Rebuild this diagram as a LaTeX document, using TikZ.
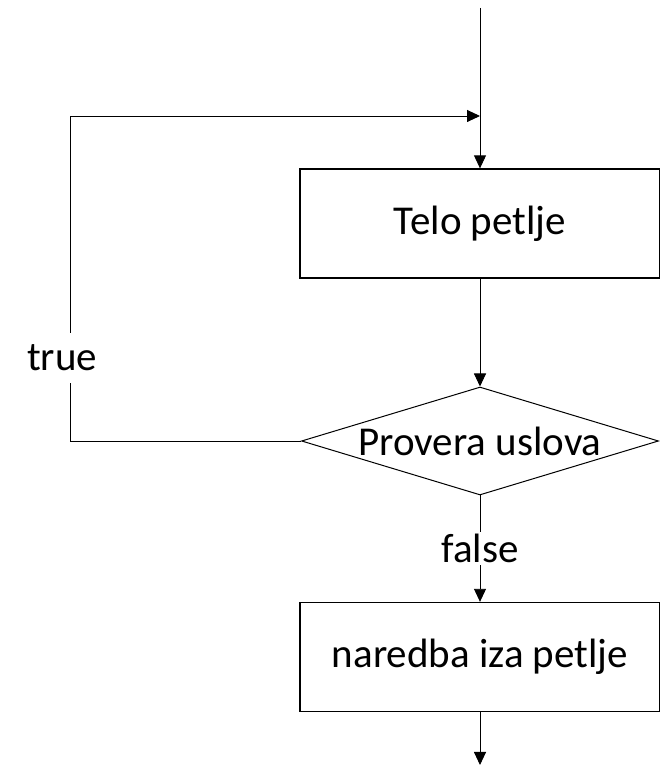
\documentclass[tikz,border=0pt]{standalone}
\usepackage{fontspec}
\setmainfont{Carlito}
\usetikzlibrary{arrows.meta,positioning,shapes.geometric}

\begin{document}
\begin{tikzpicture}[
  x=1pt, y=1pt,
  font=\fontsize{41}{49}\selectfont,
  proc/.style={draw, line width=1.3pt, minimum width=360pt,
    minimum height=109pt, inner sep=0pt},
  cond/.style={draw, diamond, line width=1pt, minimum width=357pt,
    minimum height=108pt, inner sep=0pt},
  lbl/.style={fill=white, inner sep=2pt},
  arr/.style={-{Triangle[length=13pt, width=12pt]}, line width=0.9pt},
]
\useasboundingbox (0,0) rectangle (659,766);

\node[proc] (body)  at (480,542.5) {Telo petlje};
\node[cond] (check) at (480,325)   {\makebox[0pt]{Provera uslova}};
\node[proc] (next)  at (480,109)   {naredba iza petlje};
\node[lbl, minimum height=50pt] (truelbl) at (62,408) {true};

\coordinate (start)   at (480,758);
\coordinate (merge)   at (480,650);
\coordinate (loopbot) at (70,325);
\coordinate (looptop) at (70,650);
\coordinate (exit)    at (480,1);

\draw[arr] (start) -- (body.north);
\draw[arr] (body.south) -- (check.north);
\draw (check.west) -- (loopbot) -- (truelbl.south -| loopbot);
\draw[arr] (truelbl.north -| looptop) -- (looptop) -- (merge);
\draw[arr] (check.south) -- node[lbl] {false} (next.north);
\draw[arr] (next.south) -- (exit);
\end{tikzpicture}
\end{document}
